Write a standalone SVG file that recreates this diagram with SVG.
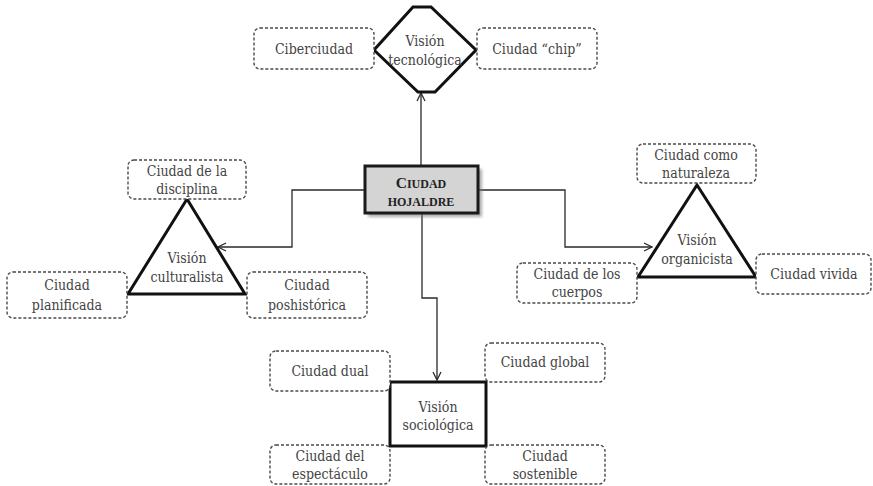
<svg xmlns="http://www.w3.org/2000/svg" width="873" height="486" viewBox="0 0 873 486">
<defs>
<style>
.t{font-family:"DejaVu Serif Condensed","DejaVu Serif",serif;font-stretch:condensed;font-size:14px;fill:#444;text-anchor:middle}
.db{fill:#fff;stroke:#4a4a4a;stroke-width:1.4;stroke-dasharray:3 2}
.sh{fill:#fff;stroke:#111;stroke-width:3;stroke-linejoin:miter}
.c{fill:none;stroke:#2a2a2a;stroke-width:1.3}
.hd{font-family:"Liberation Serif","Times New Roman","DejaVu Serif",serif;font-weight:bold;font-size:12px;fill:#222;text-anchor:middle}
.cap{font-size:15.5px}
</style>
<marker id="ah" viewBox="0 0 10 10" refX="9" refY="5" markerWidth="10" markerHeight="10" markerUnits="userSpaceOnUse" orient="auto">
<path d="M1,1 L9,5 L1,9" fill="none" stroke="#2a2a2a" stroke-width="1.3"/>
</marker>
<filter id="blur" x="-20%" y="-20%" width="140%" height="140%"><feGaussianBlur stdDeviation="1.5"/></filter>
</defs>
<rect width="873" height="486" fill="#fff"/>

<g id="connectors">
<path class="c" d="M421,166 V93" marker-end="url(#ah)"/>
<path class="c" d="M365,190 H292 V247 H218" marker-end="url(#ah)"/>
<path class="c" d="M478,190 H565 V247 H652" marker-end="url(#ah)"/>
<path class="c" d="M422,213 V298 H437 V380" marker-end="url(#ah)"/>
</g>

<g id="center">
<rect x="368" y="169" width="114" height="48" fill="#777" opacity="0.6" filter="url(#blur)"/>
<rect x="365" y="166" width="113" height="47" fill="#d4d4d4" stroke="#1a1a1a" stroke-width="3"/>
<text class="hd" x="421" y="188"><tspan class="cap">C</tspan>IUDAD</text>
<text class="hd" x="421" y="206">HOJALDRE</text>
</g>

<g id="tecnologica">
<polygon class="sh" points="413,7 431,7 476,50 435,92 418,92 374,50"/>
<text class="t" x="425" y="46">Visión</text>
<text class="t" x="425" y="65">tecnológica</text>
</g>
<g id="ciberciudad">
<rect class="db" x="254" y="28" width="120" height="41" rx="6"/>
<text class="t" x="314" y="54">Ciberciudad</text>
</g>
<g id="chip">
<rect class="db" x="477" y="28" width="120" height="41" rx="6"/>
<text class="t" x="537" y="54">Ciudad “chip”</text>
</g>

<g id="culturalista">
<polygon class="sh" points="187,199 245,294 128,294"/>
<text class="t" x="187" y="263">Visión</text>
<text class="t" x="187" y="282">culturalista</text>
</g>
<g id="disciplina">
<rect class="db" x="128" y="160" width="118" height="39" rx="6"/>
<text class="t" x="187" y="176">Ciudad de la</text>
<text class="t" x="187" y="194">disciplina</text>
</g>
<g id="planificada">
<rect class="db" x="7" y="272" width="120" height="46" rx="6"/>
<text class="t" x="67" y="290">Ciudad</text>
<text class="t" x="67" y="310">planificada</text>
</g>
<g id="poshistorica">
<rect class="db" x="247" y="272" width="120" height="46" rx="6"/>
<text class="t" x="307" y="290">Ciudad</text>
<text class="t" x="307" y="310">poshistórica</text>
</g>

<g id="organicista">
<polygon class="sh" points="697,185 756,277 638,277"/>
<text class="t" x="697" y="245">Visión</text>
<text class="t" x="697" y="264">organicista</text>
</g>
<g id="naturaleza">
<rect class="db" x="637" y="144" width="119" height="39" rx="6"/>
<text class="t" x="696" y="160">Ciudad como</text>
<text class="t" x="696" y="178">naturaleza</text>
</g>
<g id="cuerpos">
<rect class="db" x="517" y="263" width="120" height="40" rx="6"/>
<text class="t" x="577" y="279">Ciudad de los</text>
<text class="t" x="577" y="297">cuerpos</text>
</g>
<g id="vivida">
<rect class="db" x="756" y="254" width="115" height="40" rx="6"/>
<text class="t" x="814" y="279">Ciudad vivida</text>
</g>

<g id="sociologica">
<rect class="sh" x="390" y="382" width="96" height="64"/>
<text class="t" x="438" y="412">Visión</text>
<text class="t" x="438" y="430">sociológica</text>
</g>
<g id="dual">
<rect class="db" x="270" y="351" width="120" height="40" rx="6"/>
<text class="t" x="330" y="376">Ciudad dual</text>
</g>
<g id="global">
<rect class="db" x="485" y="343" width="120" height="39" rx="6"/>
<text class="t" x="545" y="367">Ciudad global</text>
</g>
<g id="espectaculo">
<rect class="db" x="270" y="445" width="120" height="39" rx="6"/>
<text class="t" x="330" y="461">Ciudad del</text>
<text class="t" x="330" y="479">espectáculo</text>
</g>
<g id="sostenible">
<rect class="db" x="485" y="445" width="120" height="39" rx="6"/>
<text class="t" x="545" y="461">Ciudad</text>
<text class="t" x="545" y="479">sostenible</text>
</g>
</svg>
